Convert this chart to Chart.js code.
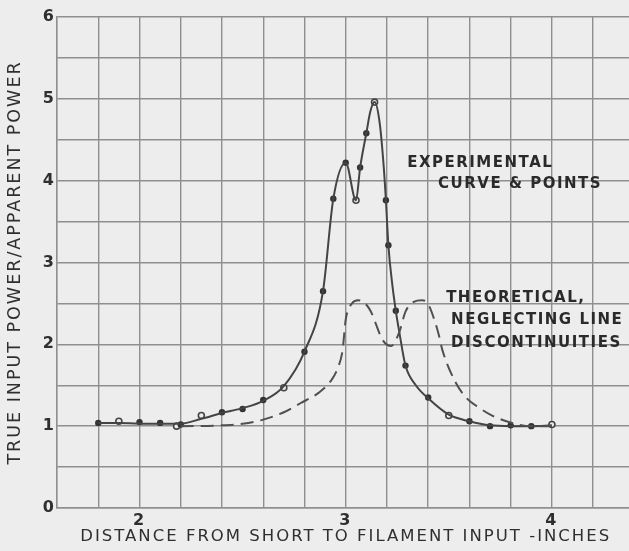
<!DOCTYPE html>
<html>
<head>
<meta charset="utf-8">
<script src="https://cdn.jsdelivr.net/npm/chart.js@4.4.1/dist/chart.umd.min.js"></script>
<style>
  html, body { margin: 0; padding: 0; background: #ededee; overflow: hidden; }
  #wrap { width: 640px; height: 551px; }
</style>
</head>
<body>
<div id="wrap"><canvas id="powerChart" width="640" height="551"></canvas></div>
<script>
// Curva experimental (trazo continuo)
const expCurveX = [1.8, 1.9, 2.0, 2.1, 2.2, 2.3, 2.4, 2.5, 2.6, 2.7, 2.8, 2.89, 2.94, 3.0, 3.05, 3.07, 3.10, 3.12, 3.14, 3.165, 3.185, 3.195, 3.207, 3.225, 3.243, 3.26, 3.29, 3.34, 3.40, 3.50, 3.60, 3.70, 3.80, 3.90, 4.0];
const expCurveY = [1.04, 1.04, 1.03, 1.03, 1.03, 1.09, 1.16, 1.22, 1.31, 1.49, 1.91, 2.65, 3.78, 4.22, 3.76, 4.16, 4.58, 4.85, 4.96, 4.70, 4.15, 3.76, 3.21, 2.75, 2.41, 2.15, 1.74, 1.50, 1.34, 1.14, 1.06, 1.01, 1.00, 1.00, 1.01];

// Puntos medidos (llenos y abiertos)
const dotX = [1.8, 2.0, 2.1, 2.2, 2.4, 2.5, 2.6, 2.8, 2.89, 2.94, 3.0, 3.07, 3.10, 3.195, 3.207, 3.243, 3.29, 3.40, 3.60, 3.70, 3.80, 3.90];
const dotY = [1.04, 1.05, 1.04, 1.02, 1.17, 1.21, 1.32, 1.91, 2.65, 3.78, 4.22, 4.16, 4.58, 3.76, 3.21, 2.41, 1.74, 1.35, 1.06, 1.00, 1.01, 1.00];
const ringX = [1.9, 2.18, 2.3, 2.7, 3.05, 3.14, 3.5, 4.0];
const ringY = [1.06, 1.00, 1.13, 1.47, 3.76, 4.96, 1.13, 1.02];

// Curva teórica (trazo discontinuo)
const theoX = [2.2, 2.4, 2.5, 2.6, 2.7, 2.78, 2.87, 2.93, 2.96, 2.985, 3.0, 3.03, 3.06, 3.09, 3.12, 3.18, 3.22, 3.26, 3.29, 3.33, 3.37, 3.40, 3.43, 3.45, 3.47, 3.53, 3.58, 3.65, 3.71, 3.82, 3.9, 4.0];
const theoY = [1.0, 1.01, 1.03, 1.08, 1.17, 1.28, 1.41, 1.56, 1.70, 1.93, 2.30, 2.50, 2.54, 2.51, 2.41, 2.05, 1.98, 2.15, 2.40, 2.52, 2.54, 2.49, 2.30, 2.13, 1.92, 1.55, 1.36, 1.22, 1.13, 1.03, 1.0, 1.0];

// Rótulos sobre el gráfico (posición en unidades de datos)
const noteText = ['EXPERIMENTAL', 'CURVE & POINTS', 'THEORETICAL,', 'NEGLECTING LINE', 'DISCONTINUITIES'];
const noteX = [3.298, 3.448, 3.487, 3.511, 3.511];
const noteY = [4.21, 3.96, 2.57, 2.29, 2.01];

const xTitle = 'DISTANCE FROM SHORT TO FILAMENT INPUT -INCHES';
const yTitle = 'TRUE INPUT POWER/APPARENT POWER';

const ink = '#2f2f2f';
const gridColor = '#8f8f8f';
const paper = '#ededee';

function toXY(xs, ys) {
    return xs.map((x, i) => ({ x: x, y: ys[i] }));
}

// Espaciado de letras para imitar la rotulación
const letterSpacingPlugin = {
    id: 'letterSpacing',
    beforeDraw(chart) { chart.ctx.letterSpacing = '2px'; },
    afterDraw(chart) { chart.ctx.letterSpacing = '0px'; }
};

const notesPlugin = {
    id: 'notes',
    afterDatasetsDraw(chart) {
        const ctx = chart.ctx;
        const xs = chart.scales.x, ys = chart.scales.y;
        ctx.save();
        ctx.letterSpacing = '1.5px';
        ctx.font = 'bold 15px "DejaVu Sans"';
        ctx.fillStyle = '#2a2a2a';
        ctx.textAlign = 'left';
        ctx.textBaseline = 'middle';
        noteText.forEach((t, i) => {
            ctx.fillText(t, xs.getPixelForValue(noteX[i]), ys.getPixelForValue(noteY[i]));
        });
        ctx.restore();
    }
};

new Chart(document.getElementById('powerChart'), {
    type: 'line',
    data: {
        datasets: [
            {
                label: 'Theoretical',
                data: toXY(theoX, theoY),
                borderColor: '#505050',
                borderWidth: 2,
                borderDash: [13, 7],
                pointRadius: 0,
                cubicInterpolationMode: 'monotone',
                fill: false
            },
            {
                label: 'Experimental',
                data: toXY(expCurveX, expCurveY),
                borderColor: '#444',
                borderWidth: 2,
                pointRadius: 0,
                cubicInterpolationMode: 'monotone',
                fill: false
            },
            {
                label: 'Points',
                data: toXY(dotX, dotY),
                showLine: false,
                pointRadius: 3.2,
                pointBackgroundColor: '#333',
                pointBorderColor: '#333',
                pointBorderWidth: 0
            },
            {
                label: 'Open points',
                data: toXY(ringX, ringY),
                showLine: false,
                pointRadius: 3,
                pointBackgroundColor: paper,
                pointBorderColor: '#444',
                pointBorderWidth: 1.6
            }
        ]
    },
    options: {
        responsive: false,
        animation: false,
        events: [],
        layout: { padding: { top: 17, right: 4, bottom: 0, left: 0 } },
        plugins: {
            legend: { display: false },
            tooltip: { enabled: false }
        },
        scales: {
            x: {
                type: 'linear',
                min: 1.6,
                max: 4.4,
                afterFit(scale) { scale.height = 43; },
                grid: { color: gridColor, lineWidth: 1.4, drawTicks: false },
                border: { color: gridColor, width: 1.4 },
                ticks: {
                    stepSize: 0.2,
                    autoSkip: false,
                    maxRotation: 0,
                    padding: 3,
                    color: ink,
                    font: { family: 'DejaVu Sans', size: 16, weight: 'bold' },
                    callback: v => Math.abs(v - Math.round(v)) < 1e-6 ? String(Math.round(v)) : ''
                },
                title: {
                    display: true,
                    text: xTitle,
                    color: ink,
                    font: { family: 'DejaVu Sans', size: 16.5 },
                    padding: { top: 0, bottom: 4 }
                }
            },
            y: {
                min: 0,
                max: 6,
                afterFit(scale) { scale.width = 57; },
                grid: { color: gridColor, lineWidth: 1.4, drawTicks: false },
                border: { color: gridColor, width: 1.4 },
                ticks: {
                    stepSize: 0.5,
                    padding: 1,
                    color: ink,
                    font: { family: 'DejaVu Sans', size: 16, weight: 'bold' },
                    callback: v => Number.isInteger(v) ? String(v) : ''
                },
                title: {
                    display: true,
                    text: yTitle,
                    color: ink,
                    font: { family: 'DejaVu Sans', size: 17.5 },
                    padding: { top: 4.5, bottom: 0 }
                }
            }
        }
    },
    plugins: [letterSpacingPlugin, notesPlugin]
});
</script>
</body>
</html>
